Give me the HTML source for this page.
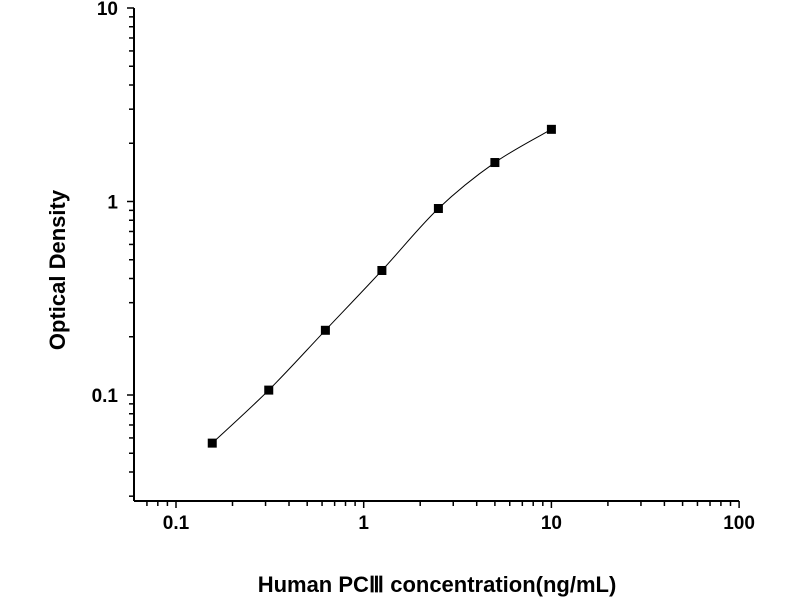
<!DOCTYPE html>
<html><head><meta charset="utf-8"><style>
body{margin:0;background:#fff;}
svg{display:block;font-family:"Liberation Sans",Arial,sans-serif;}
</style></head><body>
<svg id="chart" width="800" height="600"></svg>
<script>
const concentrations=[0.156,0.312,0.625,1.25,2.5,5,10];
const odValues=[0.0564,0.106,0.216,0.44,0.92,1.59,2.36];
const xTickLabels=["0.1","1","10","100"];
const xTickValues=[0.1,1,10,100];
const yTickLabels=["0.1","1","10"];
const yTickValues=[0.1,1,10];
const NS="http://www.w3.org/2000/svg";
const svg=document.getElementById('chart');
const X0=176,XD=187.7,Y0=395,YD=193.5,AX=134,AY=501,XEND=739,YTOP=8;
function sx(v){return X0+(Math.log10(v)+1)*XD;}
function sy(v){return Y0-(Math.log10(v)+1)*YD;}
function mk(tag,attrs,parent){const e=document.createElementNS(NS,tag);for(const k in attrs)e.setAttribute(k,attrs[k]);(parent||svg).appendChild(e);return e;}
let e;
e=mk('line',{x1:AX,y1:AY,x2:XEND,y2:AY,stroke:'#000','stroke-width':2});


e=mk('line',{x1:AX,y1:AY,x2:AX,y2:YTOP,stroke:'#000','stroke-width':2});


for(let d=-2;d<=1;d++){for(let m=1;m<=9;m++){const v=m*Math.pow(10,d);const x=sx(v);if(x<AX+1||x>XEND+0.5)continue;
const major=m===1;e=mk('line',{x1:x,y1:AY,x2:x,y2:AY+(major?7:5),stroke:'#000','stroke-width':1.5});

}}
e=mk('line',{x1:sx(100),y1:AY,x2:sx(100),y2:AY+7,stroke:'#000','stroke-width':1.5});


xTickValues.forEach((v,i)=>{const t=mk('text',{x:sx(v),y:529,'text-anchor':'middle','font-size':19,'font-weight':'bold',fill:'#000'});t.textContent=xTickLabels[i];

});
for(let d=-2;d<=0;d++){for(let m=1;m<=9;m++){const v=m*Math.pow(10,d);const y=sy(v);if(y>AY-1||y<YTOP-0.5)continue;
const major=m===1;e=mk('line',{x1:AX,y1:y,x2:AX-(major?7:5),y2:y,stroke:'#000','stroke-width':1.5});

}}
e=mk('line',{x1:AX,y1:sy(10),x2:AX-7,y2:sy(10),stroke:'#000','stroke-width':1.5});


yTickValues.forEach((v,i)=>{const t=mk('text',{x:118,y:sy(v)+7,'text-anchor':'end','font-size':19,'font-weight':'bold',fill:'#000'});t.textContent=yTickLabels[i];

});
const P=concentrations.map((c,i)=>[sx(c),sy(odValues[i])]);
let d=`M${P[0][0]},${P[0][1]}`;
for(let i=0;i<P.length-1;i++){const p0=P[i-1]||P[i],p1=P[i],p2=P[i+1],p3=P[i+2]||P[i+1];
d+=` C${p1[0]+(p2[0]-p0[0])/6},${p1[1]+(p2[1]-p0[1])/6} ${p2[0]-(p3[0]-p1[0])/6},${p2[1]-(p3[1]-p1[1])/6} ${p2[0]},${p2[1]}`;}
e=mk('path',{d:d,fill:'none',stroke:'#000','stroke-width':1});


P.forEach(p=>{e=mk('rect',{x:p[0]-4.5,y:p[1]-4.5,width:9,height:9,fill:'#000'});

});
let t=mk('text',{x:437,y:592,'text-anchor':'middle','font-size':22,'font-weight':'bold',fill:'#000'});
t.textContent='Human PCⅢ concentration(ng/mL)';


t=mk('text',{x:0,y:0,'text-anchor':'middle','font-size':22,'font-weight':'bold',fill:'#000',transform:'translate(65,270) rotate(-90)'});
t.textContent='Optical Density';


</script>
</body></html>
